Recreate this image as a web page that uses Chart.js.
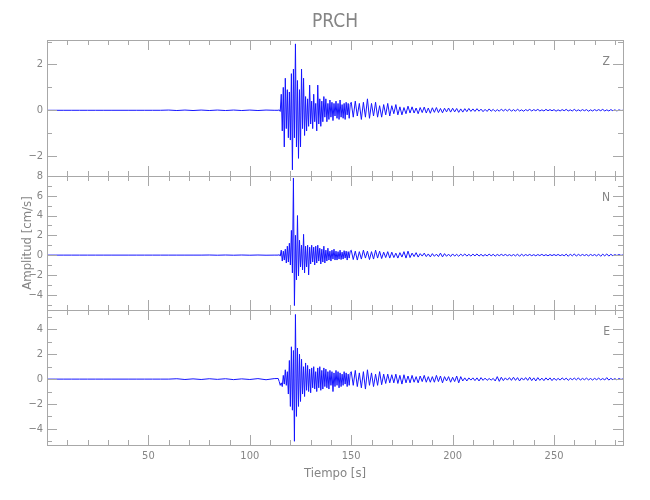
<!DOCTYPE html>
<html>
<head>
<meta charset="utf-8">
<title>PRCH</title>
<script src="https://cdn.jsdelivr.net/npm/chart.js"></script>
<style>
  body { margin: 0; background: #fff; }
  #wrap { position: relative; width: 650px; height: 500px; }
  #wrap canvas { position: absolute; left: 0; top: 0; }
</style>
</head>
<body>
<div id="wrap">
  <canvas id="chartZ" width="650" height="500"></canvas>
  <canvas id="chartN" width="650" height="500"></canvas>
  <canvas id="chartE" width="650" height="500"></canvas>
</div>
<script>
// sampling of the records (seconds): quiet part, main burst, coda
var preStart = 0, preStep = 4;
var burstStart = 114, burstStep = 0.5;
var codaStart = 150, codaStep = 1;

// Z component (cm/s)
var zPre = [0, 0, 0, 0, 0, 0, 0, 0, 0, 0, 0, 0, 0, 0, 0, 0.01, -0.01, 0.01, -0.01, 0.01,
  -0.01, 0.01, -0.01, 0.01, -0.01, 0.01, -0.01, 0.01, 0];
var zBurst = [0, 0.02, -0.05, 0.7, -0.9, 1.0, -1.6, 1.4, -0.8, 0.9,
  -1.2, 0.8, -1.3, 1.6, -2.6, 1.8, -1.2, 2.9, -1.6, 1.3,
  -2.1, 0.9, -1.6, 1.8, -0.8, 1.4, -1.1, 0.6, -0.9, 0.5,
  -0.7, 1.1, -0.6, 0.4, -0.8, 0.7, -0.5, 0.3, -0.9, 1.1,
  -0.6, 0.5, -0.7, 0.4, -0.5, 0.6, -0.3, 0.5, -0.5, 0.3,
  -0.4, 0.45, -0.3, 0.35, -0.45, 0.3, -0.25, 0.4, -0.35, 0.3,
  -0.4, 0.45, -0.3, 0.25, -0.35, 0.3, -0.4, 0.35, -0.2, 0.3,
  -0.35, 0.25];
var zCoda = [0.35, -0.3, 0.4, -0.25, 0.3, -0.4, 0.35, -0.3, 0.5, -0.35,
  0.3, -0.25, 0.35, -0.3, 0.2, -0.3, 0.25, -0.2, 0.3, -0.25,
  0.2, -0.15, 0.25, -0.2, 0.15, -0.2, 0.12, -0.15, 0.18, -0.12,
  0.15, -0.12, 0.1, -0.15, 0.12, -0.1, 0.14, -0.12, 0.1, -0.13,
  0.11, -0.09, 0.12, -0.1, 0.08, -0.11, 0.09, -0.07, 0.1, -0.08,
  0.09, -0.07, 0.08, -0.09, 0.06, -0.08, 0.07, -0.06, 0.08, -0.05,
  0.06, -0.05, 0.07, -0.04, 0.05, -0.06, 0.04, -0.05, 0.06, -0.04,
  0.04, -0.05, 0.03, -0.04, 0.05, -0.03, 0.04, -0.03, 0.05, -0.04,
  0.03, -0.04, 0.05, -0.03, 0.02, -0.04, 0.03, -0.02, 0.04, -0.03,
  0.03, -0.02, 0.04, -0.03, 0.02, -0.03, 0.04, -0.02, 0.03, -0.02,
  0.03, -0.04, 0.02, -0.03, 0.03, -0.02, 0.04, -0.03, 0.02, -0.03,
  0.04, -0.03, 0.02, -0.03, 0.03, -0.02, 0.03, -0.04, 0.02, -0.03,
  0.03, -0.02, 0.03, -0.02, 0.04, -0.03, 0.02, -0.03, 0.03, -0.02,
  0.02, -0.03, 0.02, -0.01, 0];

// N component
var nPre = [0, 0, 0, 0, 0, 0, 0, 0, 0, 0, 0, 0, 0, 0, 0, 0, 0, 0, 0, 0,
  0.01, -0.01, 0.01, -0.01, 0.01, -0.01, 0.01, -0.01, 0];
var nBurst = [0, 0.05, -0.1, 0.5, -0.6, 0.4, -0.5, 0.6, -0.8, 0.9,
  -0.7, 1.2, -1.0, 2.5, -1.8, 7.8, -5.1, 2.0, -2.5, 4.0,
  -2.1, 1.5, -1.2, 1.0, -1.5, 2.1, -1.8, 0.9, -1.2, 1.0,
  -2.0, 0.8, -0.9, 1.0, -0.7, 0.8, -1.0, 0.9, -0.8, 1.0,
  -0.6, 0.7, -0.9, 0.6, -0.7, 0.9, -0.8, 0.5, -0.6, 0.7,
  -0.5, 0.4, -0.6, 0.5, -0.4, 0.6, -0.5, 0.4, -0.5, 0.35,
  -0.4, 0.5, -0.45, 0.3, -0.4, 0.45, -0.3, 0.4, -0.5, 0.35,
  -0.3, 0.4];
var nCoda = [0.5, -0.45, 0.4, -0.5, 0.35, -0.4, 0.5, -0.3, 0.4, -0.45,
  0.35, -0.4, 0.5, -0.3, 0.4, -0.35, 0.3, -0.25, 0.35, -0.3,
  0.3, -0.25, 0.2, -0.3, 0.25, -0.2, 0.35, -0.3, 0.4, -0.25,
  0.2, -0.15, 0.25, -0.2, 0.15, -0.1, 0.2, -0.15, 0.12, -0.18,
  0.15, -0.12, 0.1, -0.15, 0.2, -0.18, 0.15, -0.12, 0.1, -0.14,
  0.12, -0.1, 0.08, -0.12, 0.1, -0.08, 0.12, -0.1, 0.08, -0.1,
  0.1, -0.08, 0.12, -0.1, 0.08, -0.1, 0.06, -0.08, 0.1, -0.07,
  0.08, -0.1, 0.07, -0.06, 0.08, -0.05, 0.07, -0.06, 0.05, -0.07,
  0.06, -0.08, 0.1, -0.12, 0.1, -0.08, 0.06, -0.05, 0.07, -0.06,
  0.05, -0.07, 0.06, -0.05, 0.08, -0.06, 0.05, -0.07, 0.06, -0.05,
  0.06, -0.05, 0.07, -0.06, 0.05, -0.07, 0.1, -0.12, 0.1, -0.08,
  0.12, -0.1, 0.08, -0.06, 0.07, -0.05, 0.06, -0.08, 0.07, -0.05,
  0.06, -0.08, 0.1, -0.12, 0.1, -0.08, 0.12, -0.1, 0.08, -0.06,
  0.05, -0.04, 0.06, -0.03, 0.02];

// E component
var ePre = [0, 0, 0, 0, 0, 0, 0, 0, 0, 0, 0, 0, 0, 0, 0, 0,
  0.03, -0.03, 0.02, -0.03, 0.03, -0.02, 0.03, -0.04, 0.02, -0.03, 0.04, -0.05, 0.04];
var eBurst = [0.05, -0.2, -0.5, -0.3, -0.6, 0.3, -0.4, 0.75, -0.5, 0.6,
  -1.2, 1.5, -2.2, 2.6, -2.5, 2.3, -5.0, 5.2, -3.0, 2.5,
  -2.2, 2.0, -1.8, 1.6, -1.2, 1.0, -1.4, 1.3, -0.9, 1.1,
  -1.0, 0.8, -1.1, 0.9, -0.7, 1.0, -0.8, 0.6, -1.0, 0.9,
  -0.7, 1.0, -0.9, 0.7, -0.8, 0.9, -0.6, 0.8, -0.7, 0.6,
  -0.8, 0.7, -0.5, 0.6, -1.0, 0.5, -0.6, 0.7, -0.5, 0.6,
  -0.7, 0.5, -0.6, 0.4, -0.5, 0.6, -0.4, 0.5, -0.6, 0.4,
  -0.5, 0.45];
var eCoda = [0.6, -0.5, 0.7, -0.6, 0.5, -0.7, 0.6, -0.8, 0.75, -0.5,
  0.5, -0.6, 0.4, -0.5, 0.6, -0.45, 0.4, -0.35, 0.4, -0.3,
  0.35, -0.3, 0.4, -0.35, 0.3, -0.4, 0.35, -0.3, 0.25, -0.3,
  0.3, -0.25, 0.2, -0.3, 0.25, -0.2, 0.3, -0.25, 0.2, -0.25,
  0.2, -0.25, 0.3, -0.2, 0.25, -0.3, 0.2, -0.15, 0.2, -0.25,
  0.15, -0.2, 0.25, -0.3, 0.2, -0.15, 0.1, -0.15, 0.1, -0.08,
  0.1, -0.12, 0.1, -0.15, 0.12, -0.1, 0.08, -0.1, 0.05, -0.08,
  0.06, -0.15, 0.2, -0.18, 0.15, -0.12, 0.1, -0.08, 0.12, -0.1,
  0.15, -0.1, 0.12, -0.15, 0.1, -0.08, 0.12, -0.1, 0.15, -0.12,
  0.1, -0.15, 0.12, -0.1, 0.08, -0.12, 0.1, -0.08, 0.1, -0.12,
  0.08, -0.1, 0.06, -0.08, 0.1, -0.06, 0.08, -0.1, 0.06, -0.05,
  0.08, -0.06, 0.1, -0.08, 0.06, -0.05, 0.08, -0.06, 0.05, -0.07,
  0.06, -0.05, 0.08, -0.06, 0.05, -0.07, 0.12, -0.08, 0.06, -0.05,
  0.04, -0.06, 0.05, -0.03, 0.02];

var timeMax = 284;

var axisGray = "#a8a8a8";
var textGray = "#858585";
var traceBlue = "rgb(20,20,255)";
var fontFamily = '"Liberation Sans Narrow", "DejaVu Sans Condensed", Roboto, sans-serif';

Chart.defaults.font.family = fontFamily;
Chart.defaults.font.size = 11;
Chart.defaults.font.weight = "300";
Chart.defaults.color = textGray;

function toPoints(start, step, values) {
  var pts = [];
  for (var i = 0; i < values.length; i++) {
    pts.push({ x: start + i * step, y: values[i] });
  }
  return pts;
}

function trace(pre, burst, coda) {
  return toPoints(preStart, preStep, pre)
    .concat(toPoints(burstStart, burstStep, burst))
    .concat(toPoints(codaStart, codaStep, coda));
}

function fmt(v) {
  return v < 0 ? "\u2212" + Math.abs(v) : String(v);
}

// frame with inward ticks on the four sides, channel name, title
var panelFrame = {
  id: "panelFrame",
  afterDraw: function (chart, args, opts) {
    var ctx = chart.ctx;
    var a = chart.chartArea;
    var xs = chart.scales.x;
    var ys = chart.scales.y;
    ctx.save();
    ctx.strokeStyle = axisGray;
    ctx.lineWidth = 1;
    ctx.beginPath();
    xs.ticks.forEach(function (t) {
      var px = Math.round(xs.getPixelForValue(t.value)) + 0.5;
      var len = t.value % 50 === 0 ? 10 : 5;
      ctx.moveTo(px, a.top);
      ctx.lineTo(px, a.top + len);
      ctx.moveTo(px, a.bottom);
      ctx.lineTo(px, a.bottom - len);
    });
    ys.ticks.forEach(function (t) {
      var py = Math.round(ys.getPixelForValue(t.value)) + 0.5;
      var len = t.value % 2 === 0 ? 10 : 5;
      ctx.moveTo(a.left, py);
      ctx.lineTo(a.left + len, py);
      ctx.moveTo(a.right, py);
      ctx.lineTo(a.right - len, py);
    });
    ctx.stroke();
    ctx.strokeRect(a.left + 0.5, a.top + 0.5, a.right - a.left, a.bottom - a.top);

    ctx.fillStyle = textGray;
    ctx.textAlign = "right";
    ctx.textBaseline = "middle";
    ctx.font = "300 12px " + fontFamily;
    ctx.fillText(opts.channel, a.right - 13, a.top + 22);
    if (opts.title) {
      ctx.textAlign = "center";
      ctx.font = "300 19px " + fontFamily;
      ctx.fillText(opts.title, (a.left + a.right) / 2, 22);
    }
    ctx.restore();
  },
};

function drawPanel(id, points, yMin, yMax, top, bottom, channel, extra) {
  var bottomAxis = extra.xTitle ? 55 : 0;
  return new Chart(document.getElementById(id), {
    type: "line",
    data: {
      datasets: [
        {
          data: points,
          borderColor: traceBlue,
          borderWidth: 1,
          pointRadius: 0,
          fill: false,
          tension: 0,
        },
      ],
    },
    options: {
      responsive: false,
      animation: false,
      parsing: false,
      layout: { padding: { left: 0, right: 27, top: top, bottom: 500 - bottom - bottomAxis } },
      plugins: {
        legend: { display: false },
        tooltip: { enabled: false },
        panelFrame: { channel: channel, title: extra.title },
      },
      scales: {
        x: {
          type: "linear",
          min: 0,
          max: timeMax,
          grid: { display: false, drawTicks: false },
          border: { display: false },
          ticks: {
            display: !!extra.xTitle,
            stepSize: 10,
            includeBounds: false,
            autoSkip: false,
            maxRotation: 0,
            padding: 5,
            callback: function (v) {
              return v % 50 === 0 && v > 0 ? String(v) : "";
            },
          },
          title: {
            display: !!extra.xTitle,
            text: extra.xTitle || "",
            font: { size: 13 },
            padding: { top: 0, bottom: 19 },
          },
          afterFit: function (s) {
            s.height = bottomAxis;
          },
        },
        y: {
          min: yMin,
          max: yMax,
          grid: { display: false, drawTicks: false },
          border: { display: false },
          ticks: {
            stepSize: 1,
            includeBounds: false,
            autoSkip: false,
            padding: 4,
            callback: function (v) {
              return v % 2 === 0 ? fmt(v) : "";
            },
          },
          title: {
            display: !!extra.yTitle,
            text: extra.yTitle || "",
            font: { size: 13 },
            padding: { top: 20, bottom: 0 },
          },
          afterFit: function (s) {
            s.width = 47;
          },
        },
      },
    },
    plugins: [panelFrame],
  });
}

drawPanel("chartZ", trace(zPre, zBurst, zCoda), -2.87, 3.07, 40, 176, "Z", { title: "PRCH" });
drawPanel("chartN", trace(nPre, nBurst, nCoda), -5.55, 8, 176, 310, "N", { yTitle: "Amplitud [cm/s]" });
drawPanel("chartE", trace(ePre, eBurst, eCoda), -5.3, 5.56, 310, 445, "E", { xTitle: "Tiempo [s]" });
</script>
</body>
</html>
